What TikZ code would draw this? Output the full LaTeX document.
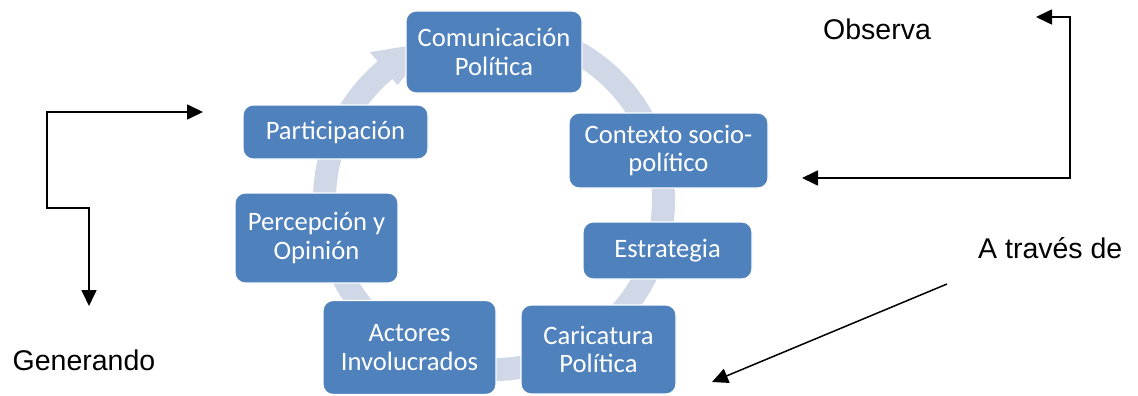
\documentclass[tikz,border=0pt]{standalone}
\usepackage{fontspec}
\setmainfont{Carlito}
\newfontfamily\arialf{Liberation Sans}
\usetikzlibrary{arrows.meta,calc}
\definecolor{boxblue}{HTML}{4F81BD}
\definecolor{ringc}{HTML}{D0D8E8}
\begin{document}
\begin{tikzpicture}[x=1pt,y=-1pt,
  cbox/.style={draw=white,line width=1.2pt,fill=boxblue,rounded corners=10pt,
    text=white,align=center,inner sep=0pt,
    font=\fontsize{26.6}{28.8}\selectfont},
  lbl/.style={font=\arialf\fontsize{28.5}{32}\selectfont,inner sep=0pt,anchor=base west},
  conn/.style={line width=1.7pt,-{Triangle[length=16pt,width=15pt]}},
  conn2/.style={line width=1.7pt,{Triangle[length=16pt,width=15pt]}-{Triangle[length=16pt,width=15pt]}}
]
\useasboundingbox (0,0) rectangle (1138,396);
\fill[white] (0,0) rectangle (1138,396);
% ring
\coordinate (C) at (494,200);
\fill[ringc] ($(C)+(-100:181)$) arc[start angle=-100,end angle=230,radius=181]
  -- ($(C)+(230:193)$) -- ($(C)+(249:169.5)$) -- ($(C)+(230:150)$)
  -- ($(C)+(230:158)$) arc[start angle=230,end angle=-100,radius=158] -- cycle;
% boxes
\node[cbox,minimum width=176pt,minimum height=82pt] (com) at (494,52) {Comunicación\\Política};
\node[cbox,minimum width=185pt,minimum height=54pt] (part) at (335.5,132) {Participación};
\node[cbox,minimum width=163pt,minimum height=90pt] (perc) at (316.5,238) {Percepción y\\Opinión};
\node[cbox,minimum width=173pt,minimum height=94pt] (act) at (409.5,347.5) {Actores\\Involucrados};
\node[cbox,minimum width=155pt,minimum height=89pt] (car) at (598.5,349.5) {Caricatura\\Política};
\node[cbox,minimum width=199pt,minimum height=75pt] (ctx) at (668.5,150.5) {Contexto socio-\\político};
\node[cbox,minimum width=169pt,minimum height=57pt] (est) at (667.5,250.5) {Estrategia};
% labels
\node[lbl] (obs) at (823,40) {Observa};
\node[lbl] (atr) at (978,258) {A través de};
\node[lbl] (gen) at (12.5,370) {Generando};
% connectors
\coordinate (l1) at (203,112);
\coordinate (l2) at (47,112);
\coordinate (l3) at (47,208);
\coordinate (l4) at (89,208);
\coordinate (l5) at (89,306);
\draw[conn2] (l1) -- (l2) -- (l3) -- (l4) -- (l5);
\coordinate (r1) at (1036,17);
\coordinate (r2) at (1070,17);
\coordinate (r3) at (1070,178);
\coordinate (r4) at (802,178);
\draw[conn2] (r1) -- (r2) -- (r3) -- (r4);
\coordinate (d1) at (947,284);
\coordinate (d2) at (712,382);
\draw[conn,line width=1.5pt] (d1) -- (d2);
\end{tikzpicture}
\end{document}
